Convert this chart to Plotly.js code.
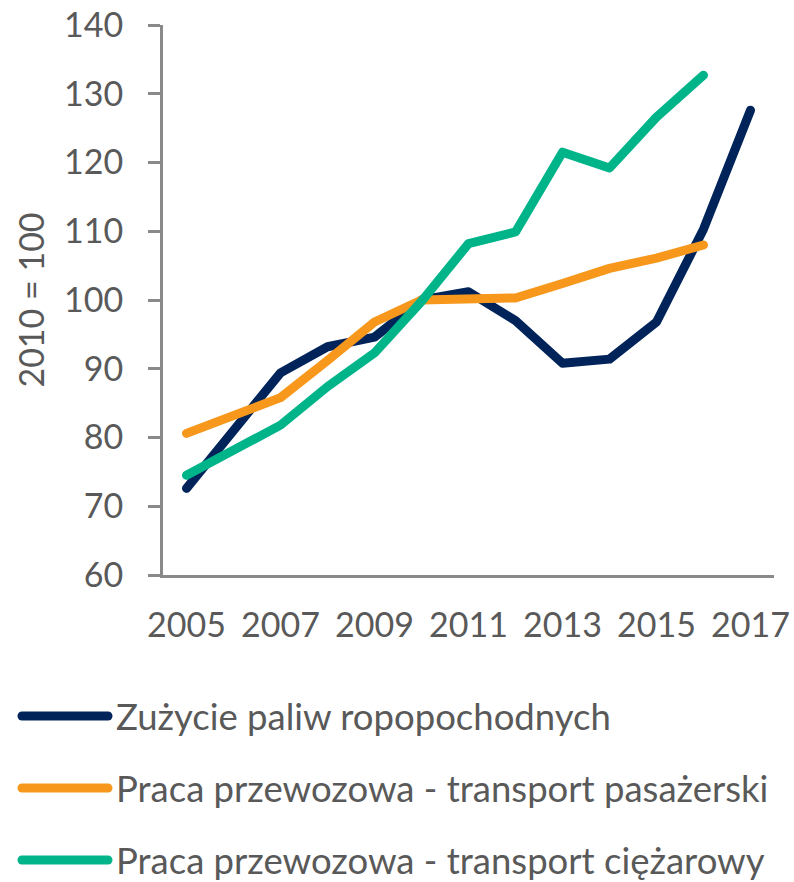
<!DOCTYPE html>
<html>
<head>
<meta charset="utf-8">
<script src="https://cdn.plot.ly/plotly-3.0.1.min.js"></script>
<style>
  html, body { margin: 0; padding: 0; background: #fff; }
  #chart { width: 794px; height: 882px; }
  .js-line { stroke-linecap: round !important; stroke-linejoin: round !important; }
  .shapelayer path { stroke-linecap: round !important; }
</style>
</head>
<body>
<div id="chart"></div>
<script>
// ---- data ----
const years = [2005, 2006, 2007, 2008, 2009, 2010, 2011, 2012, 2013, 2014, 2015, 2016, 2017];
const seriesNames = [
  "Zużycie paliw ropopochodnych",
  "Praca przewozowa - transport pasażerski",
  "Praca przewozowa - transport ciężarowy"
];
const fuelUse      = [72.6, 81.1, 89.4, 93.2, 94.6, 100.0, 101.2, 97.0, 90.8, 91.4, 96.8, 110.3, 127.6];
const passengerWork = [80.6, 83.2, 85.8, 91.2, 96.8, 100.0, 100.0, 100.3, 102.4, 104.6, 106.1, 108.0, null];
const freightWork   = [74.5, 78.2, 81.8, 87.4, 92.3, 99.8, 108.2, 109.9, 121.5, 119.2, 126.6, 132.7, null];
const xTickVals = [2005, 2007, 2009, 2011, 2013, 2015, 2017];
const xTickText = ["2005", "2007", "2009", "2011", "2013", "2015", "2017"];
const yTickVals = [60, 70, 80, 90, 100, 110, 120, 130, 140];
const yTitle = "2010 = 100";

// ---- style ----
const colors = ["#00245A", "#F7981D", "#00B48A"];
const W = 794, H = 882;
const M = { l: 163, r: 20, t: 25, b: 307 };
const FONT = "Lato, 'Open Sans', sans-serif";
const TXT = "#595959";
const AX = "#898989";

const values = [fuelUse, passengerWork, freightWork];
const traces = values.map((v, i) => ({
  x: years, y: v, type: "scatter", mode: "lines", name: seriesNames[i],
  line: { color: colors[i], width: 9 }, showlegend: false, hoverinfo: "x+y"
}));

// custom legend (paper coords from pixel layout)
const pw = W - M.l - M.r, ph = H - M.t - M.b;
const px2x = p => (p - M.l) / pw;
const py2y = p => (H - M.b - p) / ph;
const legendRows = [716, 788, 860];
const shapes = [], annotations = [];
seriesNames.forEach((n, i) => {
  shapes.push({
    type: "line", xref: "paper", yref: "paper",
    x0: px2x(22), x1: px2x(108), y0: py2y(legendRows[i]), y1: py2y(legendRows[i]),
    line: { color: colors[i], width: 9 }
  });
  annotations.push({
    xref: "paper", yref: "paper", x: px2x(114), y: py2y(legendRows[i]),
    xanchor: "left", yanchor: "middle", showarrow: false, text: n,
    font: { family: FONT, size: 36.5, color: TXT }
  });
});

const layout = {
  width: W, height: H,
  margin: M,
  paper_bgcolor: "#fff", plot_bgcolor: "#fff",
  showlegend: false,
  font: { family: FONT, size: 34, color: TXT },
  xaxis: {
    range: [2004.5, 2017.5], tickmode: "array", tickvals: xTickVals, ticktext: xTickText,
    showgrid: false, zeroline: false, showline: true, linecolor: AX, linewidth: 3,
    ticks: "", ticklabelstandoff: 18, tickfont: { family: FONT, size: 34, color: TXT }
  },
  yaxis: {
    range: [60, 140], tickmode: "array", tickvals: yTickVals,
    showgrid: false, zeroline: false, showline: true, linecolor: AX, linewidth: 3,
    ticks: "outside", ticklen: 12, tickwidth: 3, tickcolor: AX,
    ticklabelstandoff: 18, tickfont: { family: FONT, size: 34, color: TXT },
    title: { text: yTitle, font: { family: FONT, size: 34, color: TXT }, standoff: 10 }
  },
  shapes: shapes,
  annotations: annotations
};

Plotly.newPlot("chart", traces, layout, { staticPlot: true, displayModeBar: false });
</script>
</body>
</html>
